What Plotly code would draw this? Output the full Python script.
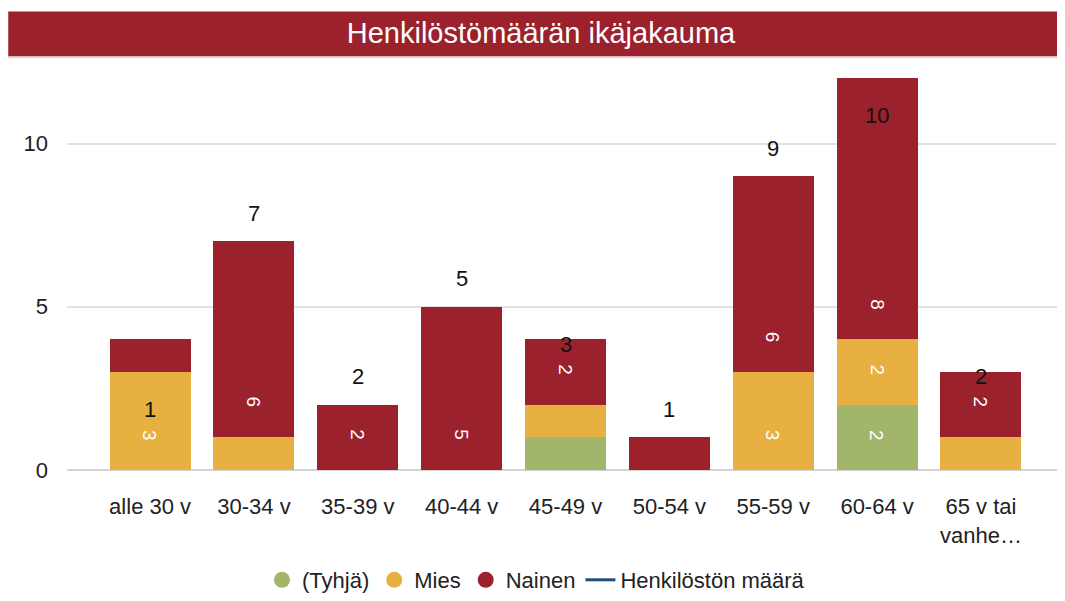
import plotly.graph_objects as go

categories = ["alle 30 v", "30-34 v", "35-39 v", "40-44 v", "45-49 v",
              "50-54 v", "55-59 v", "60-64 v", "65 v tai<br>vanhe…"]
tyhja = [0, 0, 0, 0, 1, 0, 0, 2, 0]
mies = [3, 1, 0, 0, 1, 0, 3, 2, 1]
nainen = [1, 6, 2, 5, 2, 1, 6, 8, 2]
henkilosto = [1, 7, 2, 5, 3, 1, 9, 10, 2]
y_ticks = [0, 5, 10]

C_TYHJA = "#A1B56B"
C_MIES = "#E7B041"
C_NAINEN = "#9B212C"
C_LINE = "#1F4E79"
FONT = "Arial, Liberation Sans, sans-serif"

fig = go.Figure()
series = [("(Tyhjä)", tyhja, C_TYHJA), ("Mies", mies, C_MIES), ("Nainen", nainen, C_NAINEN)]
for name, vals, col in series:
    fig.add_trace(go.Bar(x=categories, y=vals, name=name, marker_color=col,
                         marker_line_width=0, showlegend=False))

# invisible line series (only its labels are shown)
fig.add_trace(go.Scatter(x=categories, y=henkilosto, mode="lines",
                         line=dict(color="rgba(0,0,0,0)"), showlegend=False,
                         hoverinfo="skip"))

# legend entries
for name, vals, col in series:
    fig.add_trace(go.Scatter(x=[None], y=[None], mode="markers", name=name,
                             marker=dict(color=col, size=18, symbol="circle")))
fig.add_trace(go.Scatter(x=[None], y=[None], mode="lines", name="Henkilöstön määrä",
                         line=dict(color=C_LINE, width=3)))

annotations = []
# inside rotated segment labels
for i, cat in enumerate(categories):
    base = 0
    for name, vals, col in series:
        v = vals[i]
        if v >= 2:
            annotations.append(dict(x=cat, y=base, yshift=35, text=str(v), showarrow=False,
                                    textangle=90, font=dict(color="white", size=19, family=FONT)))
        base += v
# line labels
for cat, v in zip(categories, henkilosto):
    annotations.append(dict(x=cat, y=v, yshift=28, text=str(v), showarrow=False,
                            font=dict(color="#111111", size=22, family=FONT)))

fig.update_layout(
    width=1065, height=601,
    barmode="stack", bargap=0.22,
    plot_bgcolor="white", paper_bgcolor="white",
    margin=dict(l=59, r=10, t=67, b=139),
    font=dict(family=FONT, color="#222222", size=22),
    title=dict(text="Henkilöstömäärän ikäjakauma", x=533 / 1065, xref="container", xanchor="center",
               y=1 - 25 / 601, yref="container", yanchor="middle",
               font=dict(color="white", size=29, family=FONT)),
    shapes=[dict(type="rect", xref="paper", yref="paper", x0=-0.059, x1=1.01,
                 y0=1.047, y1=1.161, fillcolor=C_NAINEN, line_width=0, layer="below"),
            dict(type="line", xref="paper", yref="paper", x0=-0.059, x1=1.01,
                 y0=1.044, y1=1.044, line=dict(color="#e6dede", width=2))],
    legend=dict(orientation="h", xref="container", x=528 / 1065, xanchor="center",
                yref="container", y=1 - 572 / 601, yanchor="middle", traceorder="normal",
                font=dict(size=22, family=FONT, color="#222222"),
                itemwidth=30, tracegroupgap=0),
    annotations=annotations,
    hovermode=False,
)
fig.update_xaxes(range=[-0.80, 8.79], showgrid=False, showline=False, ticks="",
                 tickfont=dict(size=22), ticklabelstandoff=21)
fig.update_yaxes(range=[0, 12.1], tickvals=y_ticks, showgrid=True, gridcolor="#e2e2e2",
                 gridwidth=2, zeroline=True, zerolinecolor="#d4d4d4", zerolinewidth=2,
                 ticks="", tickfont=dict(size=22), ticklabelstandoff=18, fixedrange=True)

fig.write_html("out.html")
